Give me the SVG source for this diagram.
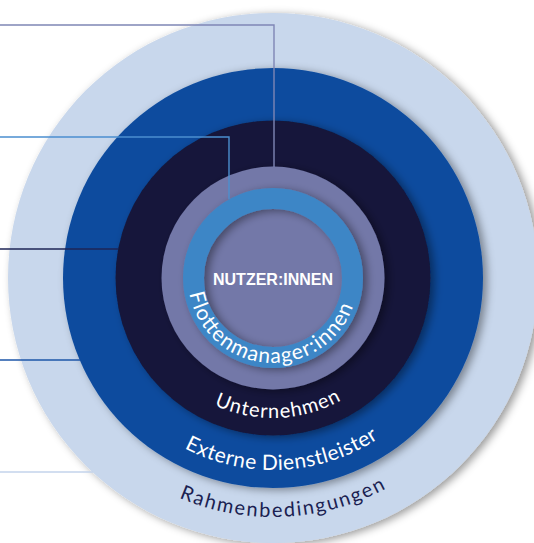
<svg xmlns="http://www.w3.org/2000/svg" width="534" height="543" viewBox="0 0 534 543">
  <style>
    .lbl { font-family: Lato, "Open Sans", "Liberation Sans", sans-serif; font-size: 20px; font-weight: 400; text-anchor: middle; }
    .light { fill: #ffffff; }
    .dark { fill: #1b1f52; }
    .conn { fill: none; stroke-width: 1.4; }
  </style>
  <defs>
    <filter id="shade" x="-20%" y="-20%" width="140%" height="140%">
      <feDropShadow dx="4" dy="2" stdDeviation="4" flood-color="#000" flood-opacity="0.4"/>
    </filter>
    <!-- baseline arcs, left to right through the bottom, centred on (273,278) -->
    <path id="arc85" d="M188 278 A85 85 0 0 0 358 278"/>
    <path id="arc140" d="M133 278 A140 140 0 0 0 413 278"/>
    <path id="arc192" d="M81 278 A192 192 0 0 0 465 278"/>
    <path id="arc239" d="M34 278 A239 239 0 0 0 512 278"/>
  </defs>

  <g id="rahmenbedingungen">
    <circle cx="273" cy="278" r="265" fill="#c8d7ec" filter="url(#shade)"/>
    <text class="lbl dark"><textPath href="#arc239" startOffset="51.4%" textLength="214" lengthAdjust="spacing">Rahmenbedingungen</textPath></text>
  </g>

  <g id="externe-dienstleister">
    <circle cx="273" cy="278" r="210" fill="#0f4c9e" filter="url(#shade)"/>
    <text class="lbl light" style="font-size:21px"><textPath href="#arc192" startOffset="51.6%" textLength="204" lengthAdjust="spacing">Externe Dienstleister</textPath></text>
  </g>

  <g id="unternehmen">
    <circle cx="273" cy="278" r="157.5" fill="#14173b" filter="url(#shade)"/>
    <text class="lbl light"><textPath href="#arc140" startOffset="51.2%" textLength="132" lengthAdjust="spacing">Unternehmen</textPath></text>
  </g>

  <g id="flottenmanager">
    <circle cx="273" cy="278" r="111.5" fill="#7378a8" filter="url(#shade)"/>
    <circle cx="273" cy="278" r="79.5" fill="none" stroke="#3e86c6" stroke-width="21" filter="url(#shade)"/>
    <text class="lbl light" style="font-size:21px"><textPath href="#arc85" startOffset="47.5%" textLength="222" lengthAdjust="spacing">Flottenmanager:innen</textPath></text>
  </g>

  <g id="nutzer">
    <text x="273" y="284.5" font-family="'Liberation Sans Narrow', 'Liberation Sans', sans-serif" font-weight="bold" font-size="16.5" fill="#ffffff" text-anchor="middle" textLength="120" lengthAdjust="spacingAndGlyphs">NUTZER:INNEN</text>
  </g>

  <g id="connectors">
    <path class="conn" stroke="#7f86b5" d="M0 25 H274 V167"/>
    <path class="conn" stroke="#4b8fcf" d="M0 137 H229 V199"/>
    <path class="conn" stroke="#1e2556" d="M0 249 H118"/>
    <path class="conn" stroke="#1d56a8" d="M0 360 H80"/>
    <path class="conn" stroke="#c3d3eb" d="M0 472 H93"/>
  </g>
</svg>
